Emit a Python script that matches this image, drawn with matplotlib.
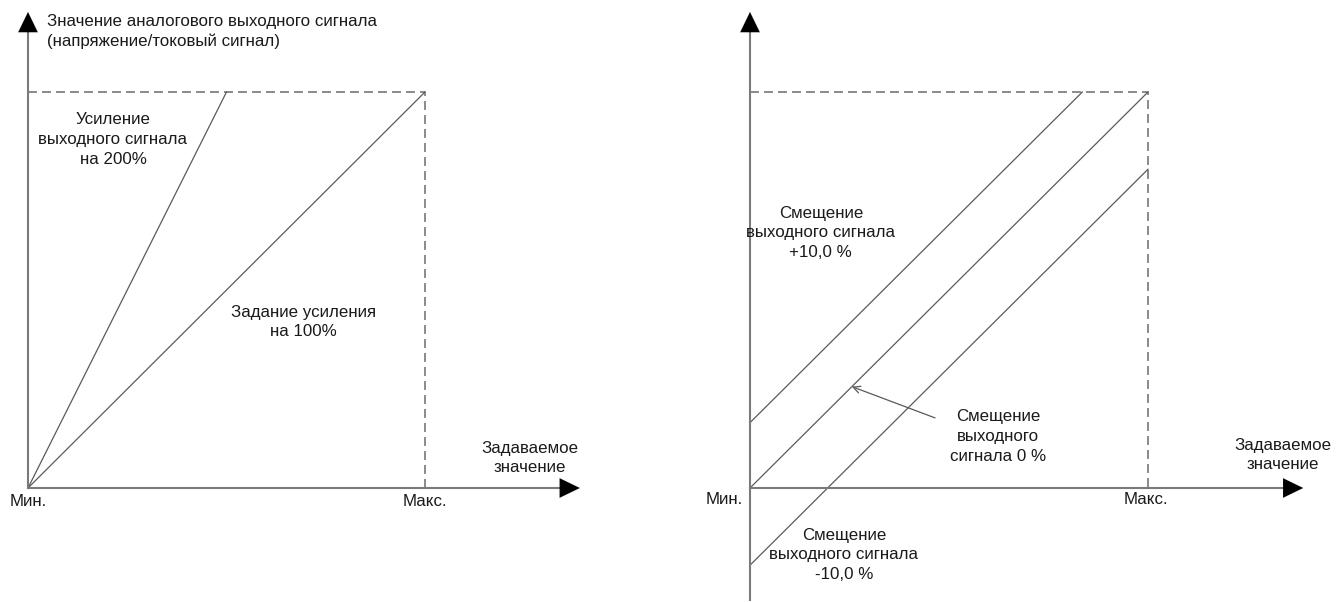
import matplotlib.pyplot as plt

plt.rcParams['font.family'] = ['Liberation Sans', 'DejaVu Sans']

# data (units: 0 = Мин., 1 = Макс.)
gain_x = [0.0, 1.0]
gain_100_y = [0.0, 1.0]
gain_200_x = [0.0, 0.5]
gain_200_y = [0.0, 1.0]

bias_x = [0.0, 1.0]
bias_0_y = [0.0, 1.0]
bias_plus = 0.165
bias_minus = -0.195

axis_col = '#7a7a7a'
line_col = '#5a5a5a'
dash_col = '#8a8a8a'
txt_col = '#1a1a1a'
fs = 12.2
ls = 1.38


def head(ax, tip, direction):
    # black filled arrow head, 20 px long
    dx, dy = direction
    ax.annotate('', xy=tip, xytext=(-dx * 14.4, -dy * 14.4), textcoords='offset points',
                arrowprops=dict(arrowstyle='-|>,head_length=14.4,head_width=7.0',
                                mutation_scale=1, color='black', lw=0.1,
                                shrinkA=0, shrinkB=0), zorder=5)


def frame(ax, ybottom):
    ax.plot([0, 0], [ybottom, 1.19], color=axis_col, lw=1.5, zorder=3)
    ax.plot([0, 1.38], [0, 0], color=axis_col, lw=1.5, zorder=3)
    head(ax, (0, 1.202), (0, 1))
    head(ax, (1.39, 0), (1, 0))
    ax.plot([0, 1, 1], [1, 1, 0], color=dash_col, lw=1.4, ls=(0, (4.6, 2.6)), zorder=2)


fig = plt.figure(figsize=(13.36, 6.02), dpi=100)

# left panel
ax1 = fig.add_axes([0, 0, 0.5, 1])
ax1.set_xlim(-28 / 397, 640 / 397)
ax1.set_ylim(-114 / 396, 488 / 396)
ax1.axis('off')
frame(ax1, 0)
ax1.plot(gain_x, gain_100_y, color=line_col, lw=0.9)
ax1.plot(gain_200_x, gain_200_y, color=line_col, lw=0.9)
ax1.text(0.047, 1.152, 'Значение аналогового выходного сигнала\n(напряжение/токовый сигнал)',
         ha='left', va='center', fontsize=fs, color=txt_col, linespacing=ls)
ax1.text(0.214, 0.88, 'Усиление\nвыходного сигнала\nна 200%', ha='center', va='center',
         fontsize=fs, color=txt_col, linespacing=ls)
ax1.text(0.693, 0.419, 'Задание усиления\nна 100%', ha='center', va='center',
         fontsize=fs, color=txt_col, linespacing=ls)
ax1.text(1.264, 0.076, 'Задаваемое\nзначение', ha='center', va='center',
         fontsize=fs, color=txt_col, linespacing=ls)
ax1.text(0, -0.035, 'Мин.', ha='center', va='center', fontsize=fs, color=txt_col)
ax1.text(1, -0.035, 'Макс.', ha='center', va='center', fontsize=fs, color=txt_col)

# right panel
ax2 = fig.add_axes([0.5, 0, 0.5, 1])
ax2.set_xlim(-82 / 398, 586 / 398)
ax2.set_ylim(-114 / 396, 488 / 396)
ax2.axis('off')
frame(ax2, -0.283)
ax2.plot(bias_x, bias_0_y, color=line_col, lw=0.9)
ax2.plot([0, 1 - bias_plus], [bias_plus, 1], color=line_col, lw=0.9)
ax2.plot([0, 1], [bias_minus, 1 + bias_minus], color=line_col, lw=0.9)
ax2.annotate('', xy=(0.256, 0.256), xytext=(0.465, 0.177),
             arrowprops=dict(arrowstyle='->,head_length=0.5,head_width=0.25',
                             color=line_col, lw=0.9, shrinkA=0, shrinkB=0))
ax2.text(0.178, 0.644, 'Смещение\nвыходного сигнала\n+10,0 %', ha='center', va='center',
         fontsize=fs, color=txt_col, linespacing=ls)
ax2.text(0.623, 0.13, 'Смещение\nвыходного\nсигнала 0 %', ha='center', va='center',
         fontsize=fs, color=txt_col, linespacing=ls)
ax2.text(0.236, -0.169, 'Смещение\nвыходного сигнала\n-10,0 %', ha='center', va='center',
         fontsize=fs, color=txt_col, linespacing=ls)
ax2.text(1.339, 0.083, 'Задаваемое\nзначение', ha='center', va='center',
         fontsize=fs, color=txt_col, linespacing=ls)
ax2.text(-0.065, -0.03, 'Мин.', ha='center', va='center', fontsize=fs, color=txt_col)
ax2.text(0.995, -0.03, 'Макс.', ha='center', va='center', fontsize=fs, color=txt_col)

fig.savefig('out.png', dpi=100, facecolor='white')
